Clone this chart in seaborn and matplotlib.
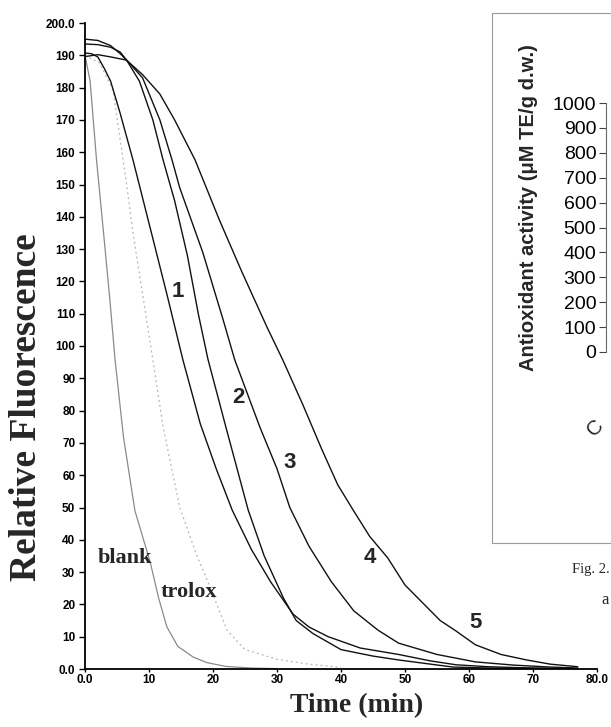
import numpy as np
import pandas as pd
import matplotlib
matplotlib.use("Agg")
import matplotlib.pyplot as plt
import seaborn as sns

# ---------------- data ----------------
blank_t = [0, 0.8, 1.8, 2.9, 3.9, 4.7, 6.0, 7.8, 9.0, 10.2, 11.5, 12.8, 14.5, 16.9, 19.0, 22.0, 26.0, 30.0]
blank_f = [190, 182, 157.6, 135, 114, 95.7, 72, 49, 41, 33, 22, 13, 7, 3.7, 2.0, 0.8, 0.3, 0.1]

trolox_t = [0, 2.3, 4.4, 6.5, 7.5, 9.4, 10.6, 12.2, 14.8, 17.5, 19.1, 22.2, 25.0, 30.0, 35.0, 40.0]
trolox_f = [190, 187.6, 179, 150, 135, 111, 95.7, 75, 50, 35, 27.5, 12, 6, 3, 1.5, 0.5]

c1_t = [0, 1, 2, 3, 4, 5.5, 7.5, 10, 12.8, 15.3, 18, 20.5, 23, 26, 29, 32.5, 35, 38, 43, 49, 54, 58, 63, 68, 73, 77]
c1_f = [190.7, 190.5, 189.5, 186, 182, 172, 157.6, 138, 116, 95.7, 76, 62, 49.2, 37, 27, 17, 13, 10, 6.5, 4.5, 2.5, 1.3, 0.7, 0.4, 0.2, 0.1]

c2_t = [0, 2, 4, 5.5, 6.5, 8.5, 10.6, 12.2, 14, 16, 17.7, 19.2, 22, 25.5, 28, 31, 33, 35.6, 40, 45, 49, 54, 57.5, 63, 70, 77]
c2_f = [195, 194.6, 193, 190.5, 188.5, 182, 170, 157.6, 145, 128, 110, 96, 75, 49.2, 35, 22, 15, 11, 6, 4, 2.8, 1.5, 0.6, 0.3, 0.2, 0.1]

c3_t = [0, 2, 4, 5.5, 6.5, 9, 11.7, 13.6, 14.8, 18.4, 21.6, 23.4, 27.3, 30, 32, 35, 38.5, 42, 45.8, 49, 55, 61, 67, 72.7, 77]
c3_f = [193.5, 193.3, 192.5, 191, 188.5, 183, 170, 157.6, 149, 129, 108, 95.7, 75, 62, 50, 38, 27, 18, 12, 8, 4.5, 2.2, 1.2, 0.6, 0.3]

c4_t = [0, 2, 4, 6.5, 9, 11.7, 14, 17.2, 21, 24.5, 28.4, 30.9, 34, 37, 39.5, 41.9, 44.5, 47.3, 50, 53, 55.5, 57.8, 61, 65, 69, 72.7, 77]
c4_f = [189.6, 190.2, 189.5, 188.5, 184, 178, 170, 157.6, 139, 123, 106, 95.7, 82, 68, 57, 49.2, 41, 34.4, 26, 20, 15, 12, 7.5, 4.5, 2.8, 1.5, 0.7]

curve_labels = ["1", "2", "3", "4", "5"]
curve_label_t = [14.5, 23.9, 32.0, 44.5, 61.0]
curve_label_f = [117, 84, 63.8, 34.4, 14.5]

series_labels = ["blank", "trolox"]
series_label_t = [6.25, 16.25]
series_label_f = [34.4, 23.8]

x_ticks = [0, 10, 20, 30, 40, 50, 60, 70, 80]
x_ticklabels = ["0.0", "10", "20", "30", "40", "50", "60", "70", "80.0"]
y_ticks = list(range(0, 201, 10))
y_ticklabels = ["0.0"] + [str(v) for v in range(10, 200, 10)] + ["200.0"]

inset_ticks = list(range(0, 1001, 100))

# ---------------- build table ----------------
frames = []
for name, t, f in [("blank", blank_t, blank_f), ("trolox", trolox_t, trolox_f),
                   ("c1", c1_t, c1_f), ("c2", c2_t, c2_f),
                   ("c3", c3_t, c3_f), ("c4", c4_t, c4_f)]:
    frames.append(pd.DataFrame({"series": name, "time": t, "fluor": f}))
df = pd.concat(frames, ignore_index=True)

styles = {
    "blank": dict(color="#8a8a8a", lw=0.9, ls="-"),
    "trolox": dict(color="#b5b5b5", lw=0.9, ls=(0, (1.5, 2.5))),
    "c1": dict(color="#111111", lw=1.0, ls="-"),
    "c2": dict(color="#111111", lw=1.0, ls="-"),
    "c3": dict(color="#111111", lw=1.0, ls="-"),
    "c4": dict(color="#111111", lw=1.0, ls="-"),
}

# ---------------- figure ----------------
sns.set_theme(style="ticks")
plt.rcParams["font.family"] = ["Liberation Sans", "DejaVu Sans"]

W, H = 611, 727
fig = plt.figure(figsize=(W / 100, H / 100), dpi=100)
fig.patch.set_facecolor("white")

ax = fig.add_axes([85 / W, (H - 669) / H, 512 / W, 646 / H])
ax.set_facecolor("white")
for name in ["blank", "trolox", "c1", "c2", "c3", "c4"]:
    st = styles[name]
    sns.lineplot(data=df[df.series == name], x="time", y="fluor", ax=ax,
                 estimator=None, sort=False, color=st["color"],
                 linewidth=st["lw"], linestyle=st["ls"], legend=False)

ax.set_xlim(0, 80)
ax.set_ylim(0, 200)
ax.set_xticks(x_ticks)
ax.set_xticklabels(x_ticklabels)
ax.set_yticks(y_ticks)
ax.set_yticklabels(y_ticklabels)
for lab in ax.get_xticklabels() + ax.get_yticklabels():
    lab.set_fontweight("bold")
    lab.set_fontsize(8.5)
ax.tick_params(axis="y", direction="out", length=4, width=1, colors="black", pad=3)
ax.tick_params(axis="x", direction="out", length=2.5, width=1, colors="black", pad=1)
sns.despine(ax=ax)
for s in ["left", "bottom"]:
    ax.spines[s].set_color("black")
    ax.spines[s].set_linewidth(1.3)

ax.set_xlabel("Time (min)", family=["Liberation Serif"], fontweight="bold", fontsize=20)
ax.set_ylabel("Relative Fluorescence", family=["Liberation Serif"], fontweight="bold", fontsize=27)
ax.xaxis.set_label_coords((357 - 85) / 512, (669 - 693) / 646)
ax.yaxis.set_label_coords((44 - 85) / 512, (669 - 407) / 646)

for txt, tx, fy in zip(curve_labels, curve_label_t, curve_label_f):
    ax.text(tx, fy, txt, fontsize=16, fontweight="bold", ha="center", va="center")
for txt, tx, fy in zip(series_labels, series_label_t, series_label_f):
    ax.text(tx, fy, txt, fontsize=16, fontweight="bold", ha="center", va="center",
            family=["Liberation Serif"])

# ---------------- inset (partially visible) ----------------
box = fig.add_axes([492 / W, (H - 543) / H, 0.5, (543 - 13) / H])
box.set_facecolor("white")
box.set_xticks([]); box.set_yticks([])
for s in box.spines.values():
    s.set_color("#9a9a9a")
    s.set_linewidth(0.8)
box.set_zorder(5)

ins = fig.add_axes([606 / W, (H - 352) / H, 0.3, (352 - 103) / H])
ins.set_facecolor("none")
ins.set_zorder(6)
ins.set_ylim(0, 1000)
ins.set_yticks(inset_ticks)
ins.set_yticklabels([str(v) for v in inset_ticks])
ins.set_xticks([])
ins.tick_params(axis="y", direction="out", length=5, width=0.8, colors="#444444",
                labelcolor="black", labelsize=14, pad=2)
for s in ["top", "right", "bottom"]:
    ins.spines[s].set_visible(False)
ins.spines["left"].set_color("#666666")
ins.spines["left"].set_linewidth(0.8)

fig.text(528 / W, 1 - 208 / H, "Antioxidant activity (\u03bcM TE/g d.w.)", rotation=90,
         fontsize=14.5, fontweight="bold", ha="center", va="center", zorder=10)
fig.text(595 / W, 1 - 428 / H, "C", rotation=45, fontsize=15, ha="center", va="center",
         zorder=10)

fig.text(572 / W, 1 - 570 / H, "Fig. 2.", family=["Liberation Serif"], fontsize=10.5,
         ha="left", va="center")
fig.text(601 / W, 1 - 600 / H, "a", family=["Liberation Serif"], fontsize=12,
         ha="left", va="center")

fig.savefig("out.png", dpi=100, facecolor="white")
